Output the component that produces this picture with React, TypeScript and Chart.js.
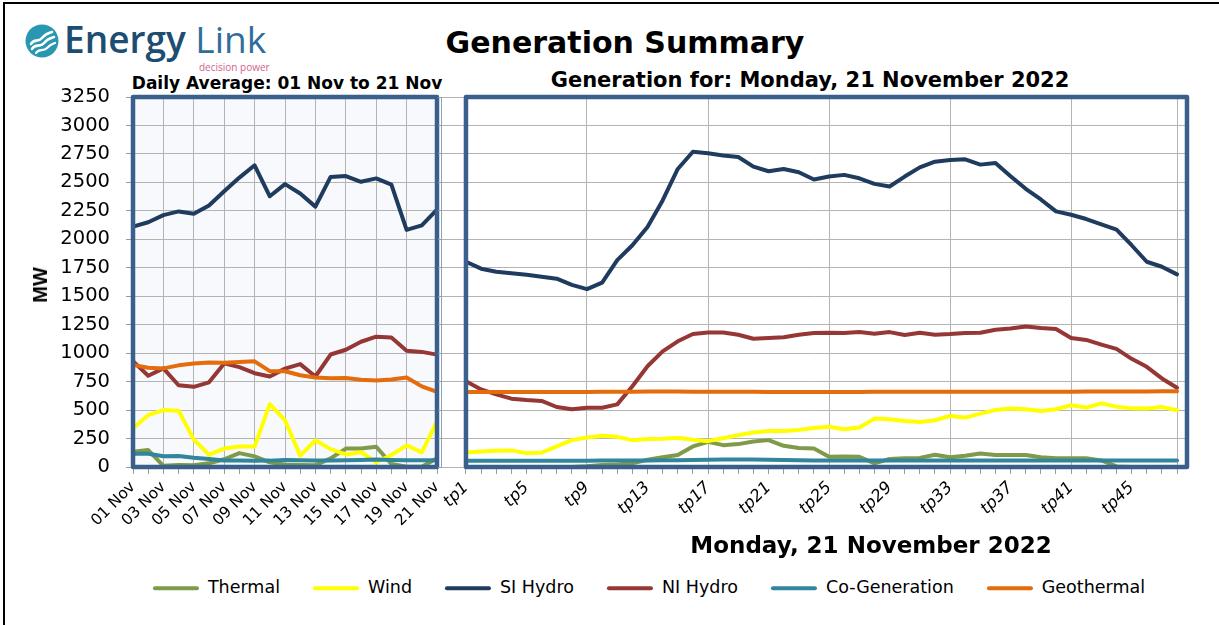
import React, { useEffect, useRef } from 'react';
import { Chart, registerables } from 'chart.js';

Chart.register(...registerables);

// ---------- data ----------
const seriesNames = ['Thermal', 'Wind', 'SI Hydro', 'NI Hydro', 'Co-Generation', 'Geothermal'];
const seriesColors = ['#7f9a48', '#ffff00', '#1f3b5e', '#953735', '#31859c', '#e46c0a'];

const yTicks = [0, 250, 500, 750, 1000, 1250, 1500, 1750, 2000, 2250, 2500, 2750, 3000, 3250];

const dayLabels = ['01 Nov', '02 Nov', '03 Nov', '04 Nov', '05 Nov', '06 Nov', '07 Nov', '08 Nov', '09 Nov', '10 Nov', '11 Nov',
  '12 Nov', '13 Nov', '14 Nov', '15 Nov', '16 Nov', '17 Nov', '18 Nov', '19 Nov', '20 Nov', '21 Nov'];

const dailyThermal = [134, 149, 10, 18, 15, 32, 68, 122, 93, 41, 20, 18, 15, 76, 162, 162, 178, 26, 2, 2, 76];
const dailyWind = [340, 455, 500, 495, 240, 108, 162, 180, 180, 552, 410, 100, 235, 157, 110, 130, 42, 105, 190, 128, 400];
const dailySIHydro = [2112, 2150, 2212, 2245, 2225, 2297, 2422, 2542, 2650, 2378, 2485, 2403, 2287, 2548, 2556, 2505, 2535, 2481, 2083, 2122, 2260];
const dailyNIHydro = [930, 802, 866, 718, 704, 744, 910, 877, 824, 795, 864, 904, 795, 988, 1030, 1100, 1145, 1137, 1022, 1011, 987];
const dailyCoGen = [117, 116, 94, 97, 82, 70, 57, 56, 54, 56, 62, 60, 58, 58, 60, 62, 66, 62, 60, 60, 60];
const dailyGeothermal = [897, 872, 866, 893, 910, 918, 916, 922, 928, 842, 841, 806, 786, 780, 782, 766, 760, 768, 786, 708, 660];

const tpLabels = ['tp1', 'tp2', 'tp3', 'tp4', 'tp5', 'tp6', 'tp7', 'tp8', 'tp9', 'tp10', 'tp11', 'tp12', 'tp13', 'tp14', 'tp15', 'tp16',
  'tp17', 'tp18', 'tp19', 'tp20', 'tp21', 'tp22', 'tp23', 'tp24', 'tp25', 'tp26', 'tp27', 'tp28', 'tp29', 'tp30', 'tp31', 'tp32',
  'tp33', 'tp34', 'tp35', 'tp36', 'tp37', 'tp38', 'tp39', 'tp40', 'tp41', 'tp42', 'tp43', 'tp44', 'tp45', 'tp46', 'tp47', 'tp48'];
const tpLabelled = ['tp1', 'tp5', 'tp9', 'tp13', 'tp17', 'tp21', 'tp25', 'tp29', 'tp33', 'tp37', 'tp41', 'tp45'];
const tpGridlines = ['tp9', 'tp17', 'tp25', 'tp33', 'tp41', 'tp48'];

const tpThermal = [0, 0, 0, 0, 0, 0, 0, 0, 6, 17, 23, 32, 64, 85, 105, 181, 221, 192, 201, 224, 236, 186, 166, 163,
  90, 93, 90, 32, 70, 76, 80, 108, 85, 99, 119, 105, 105, 105, 85, 76, 76, 76, 58, 5, 0, 0, 0, 0];
const tpWind = [128, 137, 143, 146, 122, 125, 181, 236, 259, 274, 265, 236, 245, 248, 256, 239, 227, 253, 280, 303, 317, 317, 326, 343,
  353, 332, 347, 425, 419, 405, 396, 411, 448, 434, 469, 501, 513, 507, 492, 507, 542, 522, 559, 530, 515, 513, 527, 498];
const tpSIHydro = [1803, 1742, 1715, 1701, 1689, 1672, 1654, 1600, 1562, 1619, 1817, 1948, 2108, 2341, 2618, 2769, 2755, 2737, 2723, 2638,
  2598, 2618, 2589, 2525, 2552, 2566, 2536, 2487, 2464, 2551, 2632, 2682, 2697, 2703, 2656, 2671, 2554, 2444, 2350, 2245,
  2216, 2178, 2132, 2085, 1948, 1803, 1759, 1692];
const tpNIHydro = [754, 681, 638, 600, 588, 580, 527, 507, 521, 521, 550, 710, 885, 1016, 1104, 1168, 1182, 1182, 1162, 1127,
  1133, 1139, 1162, 1177, 1180, 1177, 1185, 1171, 1185, 1159, 1179, 1162, 1168, 1177, 1179, 1206, 1217, 1235, 1220, 1212,
  1133, 1116, 1075, 1037, 950, 880, 778, 696];
const tpCoGen = [55, 55, 55, 55, 55, 55, 55, 55, 55, 56, 57, 58, 58, 59, 60, 62, 64, 66, 66, 65, 64, 62, 60, 58,
  57, 57, 56, 56, 56, 56, 56, 56, 56, 56, 56, 56, 56, 56, 56, 56, 56, 56, 56, 56, 56, 56, 56, 56];
const tpGeothermal = [658, 658, 658, 658, 658, 658, 658, 658, 659, 660, 661, 662, 663, 663, 663, 662, 661, 661, 660, 660, 659, 659, 659, 659,
  659, 659, 659, 660, 660, 660, 660, 661, 661, 661, 661, 661, 662, 662, 662, 662, 662, 663, 663, 663, 664, 664, 665, 665];

const dailySeries = [dailyThermal, dailyWind, dailySIHydro, dailyNIHydro, dailyCoGen, dailyGeothermal];
const tpSeries = [tpThermal, tpWind, tpSIHydro, tpNIHydro, tpCoGen, tpGeothermal];

// ---------- styles ----------
const FRAME = '#3b5f8c';
const GRID = '#b4b4b4';
const TICK = '#9a9a9a';
const TRANSPARENT = 'rgba(0,0,0,0)';

function framePlugin(bg: string | null, fromValue: number | null) {
  return {
    id: 'frame' + (bg ? 'L' : 'R'),
    beforeDraw(chart: any) {
      if (!bg) return;
      const a = chart.chartArea;
      const ctx = chart.ctx;
      ctx.save();
      ctx.fillStyle = bg;
      ctx.fillRect(a.left, a.top, a.right - a.left, a.bottom - a.top);
      ctx.restore();
    },
    afterDatasetsDraw(chart: any) {
      const a = chart.chartArea;
      const ctx = chart.ctx;
      const x0 = fromValue === null ? a.left : chart.scales.x.getPixelForValue(fromValue);
      ctx.save();
      ctx.strokeStyle = FRAME;
      ctx.lineWidth = 4.5;
      ctx.lineJoin = 'round';
      ctx.strokeRect(x0, a.top, a.right - x0, a.bottom - a.top);
      ctx.restore();
    },
  };
}

function makeDatasets(series: number[][], asXY: boolean) {
  return series.map((vals, si) => ({
    label: seriesNames[si],
    data: asXY ? vals.map((v, i) => ({ x: i, y: v })) : vals,
    borderColor: seriesColors[si],
    backgroundColor: seriesColors[si],
    borderWidth: 4,
    pointRadius: 0,
    tension: 0,
    fill: false,
    borderJoinStyle: 'round',
    borderCapStyle: 'round',
    order: seriesNames.length - si,
  }));
}

function yScale(labels: boolean, width: number) {
  return {
    min: 0,
    max: 3250,
    afterBuildTicks: (s: any) => { s.ticks = yTicks.map((v) => ({ value: v })); },
    ticks: {
      display: labels,
      font: { family: 'DejaVu Sans', size: 19.5 },
      color: '#000',
      padding: 16,
      callback: (v: any) => String(v),
    },
    grid: { color: GRID, lineWidth: 1, tickLength: labels ? 7 : 3, tickColor: TICK },
    border: { display: !labels, color: '#8ea2bd', width: 1 },
    afterFit: (s: any) => { s.width = width; },
  };
}

function LeftChart() {
  const ref = useRef<HTMLCanvasElement>(null);
  useEffect(() => {
    const chart = new Chart(ref.current as HTMLCanvasElement, {
      type: 'line',
      data: { labels: dayLabels, datasets: makeDatasets(dailySeries, false) as any },
      options: {
        animation: false,
        responsive: false,
        layout: { padding: { top: 37, right: 23, left: 0, bottom: 0 } },
        plugins: { legend: { display: false }, tooltip: { enabled: false } },
        scales: {
          x: {
            type: 'category',
            offset: false,
            ticks: {
              autoSkip: false,
              maxRotation: 45,
              minRotation: 45,
              font: { family: 'DejaVu Sans', size: 15.5 },
              color: '#000',
              padding: 4,
              callback: (_v: any, i: number) => (i % 2 === 0 ? dayLabels[i] : ''),
            },
            grid: {
              offset: false,
              color: (c: any) => (c.index % 2 === 0 ? GRID : TRANSPARENT),
              tickColor: TICK,
              tickLength: 7,
            },
            border: { display: false },
            afterFit: (s: any) => { s.height = 93; },
          },
          y: yScale(true, 133),
        },
      } as any,
      plugins: [framePlugin('#f7f9fc', null)],
    });
    return () => chart.destroy();
  }, []);
  return <canvas ref={ref} width={460} height={500} style={{ position: 'absolute', left: 0, top: 60, width: 460, height: 500 }} />;
}

function RightChart() {
  const ref = useRef<HTMLCanvasElement>(null);
  useEffect(() => {
    const chart = new Chart(ref.current as HTMLCanvasElement, {
      type: 'line',
      data: { datasets: makeDatasets(tpSeries, true) as any },
      options: {
        animation: false,
        responsive: false,
        layout: { padding: { top: 37, right: 32, left: 0, bottom: 0 } },
        plugins: { legend: { display: false }, tooltip: { enabled: false } },
        scales: {
          x: {
            type: 'linear',
            min: -1.65,
            max: 47.66,
            afterBuildTicks: (s: any) => { s.ticks = tpLabels.map((_l, i) => ({ value: i })); },
            ticks: {
              autoSkip: false,
              maxRotation: 45,
              minRotation: 45,
              font: { family: 'DejaVu Sans', size: 16.5, style: 'italic' },
              color: '#000',
              padding: 4,
              callback: (v: any) => (tpLabelled.includes(tpLabels[v]) ? tpLabels[v] : ''),
            },
            grid: {
              color: (c: any) => (c.tick && tpGridlines.includes(tpLabels[c.tick.value]) ? GRID : TRANSPARENT),
              tickColor: TICK,
              tickLength: 7,
            },
            border: { display: false },
            afterFit: (s: any) => { s.height = 93; },
          },
          y: yScale(false, 11),
        },
      } as any,
      plugins: [framePlugin(null, 0)],
    });
    return () => chart.destroy();
  }, []);
  return <canvas ref={ref} width={789} height={500} style={{ position: 'absolute', left: 430, top: 60, width: 789, height: 500 }} />;
}

function centered(x: number, y: number, style: React.CSSProperties, text: string) {
  return (
    <div style={{ position: 'absolute', left: x, top: y, transform: 'translate(-50%, -50%)', whiteSpace: 'nowrap', lineHeight: 1, ...style }}>
      {text}
    </div>
  );
}

function Logo() {
  return (
    <>
      <svg width={34} height={34} viewBox="0 0 34 34" style={{ position: 'absolute', left: 25, top: 24 }}>
        <circle cx={17} cy={17} r={16.5} fill="#2997b1" />
        <path d="M6 20 C9 14, 13 19, 17 14 S24 9, 27 8" stroke="#fff" strokeWidth={2.6} fill="none" strokeLinecap="round" />
        <path d="M7 25 C10 19, 15 24, 19 19 S26 14, 29 13" stroke="#fff" strokeWidth={2.6} fill="none" strokeLinecap="round" />
        <path d="M11 29 C14 24, 18 28, 22 24 S27 20, 30 19" stroke="#fff" strokeWidth={2.2} fill="none" strokeLinecap="round" />
      </svg>
      <div style={{ position: 'absolute', left: 64, top: 20, fontFamily: 'Open Sans', fontSize: 37, lineHeight: 1, whiteSpace: 'nowrap' }}>
        <span style={{ color: '#1d4d71', fontWeight: 600 }}>Energy</span>
        <span style={{ color: '#2f6d9e', fontWeight: 400 }}> Link</span>
      </div>
      <div style={{ position: 'absolute', left: 199, top: 62, fontFamily: 'Open Sans', fontSize: 10, lineHeight: 1, color: '#d0628c', whiteSpace: 'nowrap' }}>
        decision power
      </div>
    </>
  );
}

function Legend() {
  return (
    <div style={{ position: 'absolute', left: 649, top: 588, transform: 'translate(-50%, -50%)', display: 'flex', alignItems: 'center', whiteSpace: 'nowrap', fontFamily: 'DejaVu Sans', fontSize: 17.5, color: '#000', lineHeight: 1 }}>
      {seriesNames.map((n, i) => (
        <div key={n} style={{ display: 'flex', alignItems: 'center', marginLeft: i === 0 ? 0 : 33 }}>
          <div style={{ width: 46, height: 4, borderRadius: 2, background: seriesColors[i], marginRight: 9 }} />
          <span>{n}</span>
        </div>
      ))}
    </div>
  );
}

export default function App() {
  return (
    <div style={{ position: 'absolute', left: 0, top: 0, width: 1219, height: 625, overflow: 'hidden', background: '#fff' }}>
      <div style={{ position: 'absolute', left: 3, top: 2, width: 1240, height: 660, border: '2px solid #000', boxSizing: 'border-box' }} />
      <Logo />
      {centered(625, 43, { fontFamily: 'DejaVu Sans', fontWeight: 'bold', fontSize: 30, color: '#000' }, 'Generation Summary')}
      {centered(287, 83, { fontFamily: 'DejaVu Sans', fontWeight: 'bold', fontSize: 17, color: '#000' }, 'Daily Average: 01 Nov to 21 Nov')}
      {centered(810, 80, { fontFamily: 'DejaVu Sans', fontWeight: 'bold', fontSize: 21, color: '#000' }, 'Generation for: Monday, 21 November 2022')}
      <LeftChart />
      <RightChart />
      <div style={{ position: 'absolute', left: 40, top: 285, transform: 'translate(-50%, -50%) rotate(-90deg)', fontFamily: 'Liberation Sans', fontWeight: 'bold', fontSize: 20, lineHeight: 1, color: '#000' }}>
        MW
      </div>
      {centered(871, 545, { fontFamily: 'DejaVu Sans', fontWeight: 'bold', fontSize: 23, color: '#000' }, 'Monday, 21 November 2022')}
      <Legend />
    </div>
  );
}
